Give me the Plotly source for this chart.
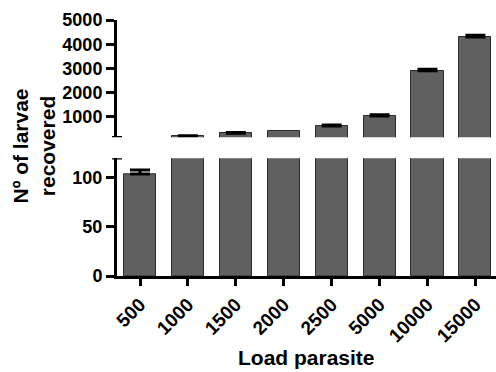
import plotly.graph_objects as go

categories = ["500", "1000", "1500", "2000", "2500", "5000", "10000", "15000"]
larvae_mean = [104, 205, 315, 420, 615, 1030, 2900, 4300]
larvae_sd = [4, 12, 30, None, 40, 55, 60, 70]

bottom_range = [0, 120]
top_range = [150, 5000]
bottom_ticks = [0, 50, 100]
top_ticks = [1000, 2000, 3000, 4000, 5000]

FONT = "Liberation Sans, Arial, sans-serif"
BAR_FILL = "#606060"
BAR_LINE = "#2a2a2a"

xs = list(range(len(categories)))

def segment_traces(yaxis, lo, hi):
    ys = [v if v > lo else None for v in larvae_mean]
    bars = go.Bar(
        x=xs, y=ys, yaxis=yaxis, xaxis="x",
        width=0.67,
        marker=dict(color=BAR_FILL, line=dict(color=BAR_LINE, width=1)),
        showlegend=False, hoverinfo="skip",
    )
    ex, ey, ee = [], [], []
    for i, (v, e) in enumerate(zip(larvae_mean, larvae_sd)):
        if e is not None and lo < v <= hi:
            ex.append(i); ey.append(v); ee.append(e)
    errs = go.Scatter(
        x=ex, y=ey, yaxis=yaxis, xaxis="x", mode="markers",
        marker=dict(size=1, color="rgba(0,0,0,0)"),
        error_y=dict(type="data", array=ee, arrayminus=[0]*len(ee),
                     symmetric=False, color="black", thickness=3, width=10),
        showlegend=False, hoverinfo="skip", cliponaxis=False,
    )
    return [bars, errs]

fig = go.Figure(segment_traces("y", bottom_range[0] - 1, bottom_range[1])
                + segment_traces("y2", top_range[0], top_range[1]))

fig.update_layout(
    width=496, height=372,
    margin=dict(l=117, r=0, t=20, b=96),
    plot_bgcolor="white", paper_bgcolor="white",
    bargap=0,
    font=dict(family=FONT, color="black"),
    xaxis=dict(
        domain=[0, 1], range=[-0.48, 7.43], anchor="y",
        tickmode="array", tickvals=xs, ticktext=categories,
        tickangle=-45, ticks="outside", ticklen=7, tickwidth=2.5, tickcolor="black",
        showline=True, linecolor="black", linewidth=3,
        showgrid=False, zeroline=False,
        tickfont=dict(family=FONT, size=19, weight="bold", color="black"),
    ),
    yaxis=dict(
        domain=[0, 0.4598], range=bottom_range, anchor="x",
        tickmode="array", tickvals=bottom_ticks,
        ticks="outside", ticklen=8, tickwidth=2.5, tickcolor="black",
        showline=True, linecolor="black", linewidth=3,
        showgrid=False, zeroline=False,
        tickfont=dict(family=FONT, size=18, weight="bold", color="black"),
    ),
    yaxis2=dict(
        domain=[0.5418, 1], range=top_range, anchor="x",
        tickmode="array", tickvals=top_ticks,
        ticks="outside", ticklen=8, tickwidth=2.5, tickcolor="black",
        showline=True, linecolor="black", linewidth=3,
        showgrid=False, zeroline=False,
        tickfont=dict(family=FONT, size=18, weight="bold", color="black"),
    ),
)

# axis break caps
for yref, yv in (("y", bottom_range[1]), ("y2", top_range[0])):
    fig.add_shape(type="line", xref="paper", yref=yref, xsizemode="pixel", xanchor=0,
                  x0=-5, x1=5, y0=yv, y1=yv, line=dict(color="black", width=2.5))

fig.add_annotation(
    text="Nº of larvae<br>recovered", textangle=-90,
    xref="paper", yref="paper", x=(33.5 - 117) / 379, y=(276 - 146) / 256,
    xanchor="center", yanchor="middle", showarrow=False,
    font=dict(family=FONT, size=21, weight="bold", color="black"),
)
fig.add_annotation(
    text="Load parasite",
    xref="paper", yref="paper", x=(306 - 117) / 379, y=(276 - 357) / 256,
    xanchor="center", yanchor="middle", showarrow=False,
    font=dict(family=FONT, size=21, weight="bold", color="black"),
)

fig.write_html("out.html")
